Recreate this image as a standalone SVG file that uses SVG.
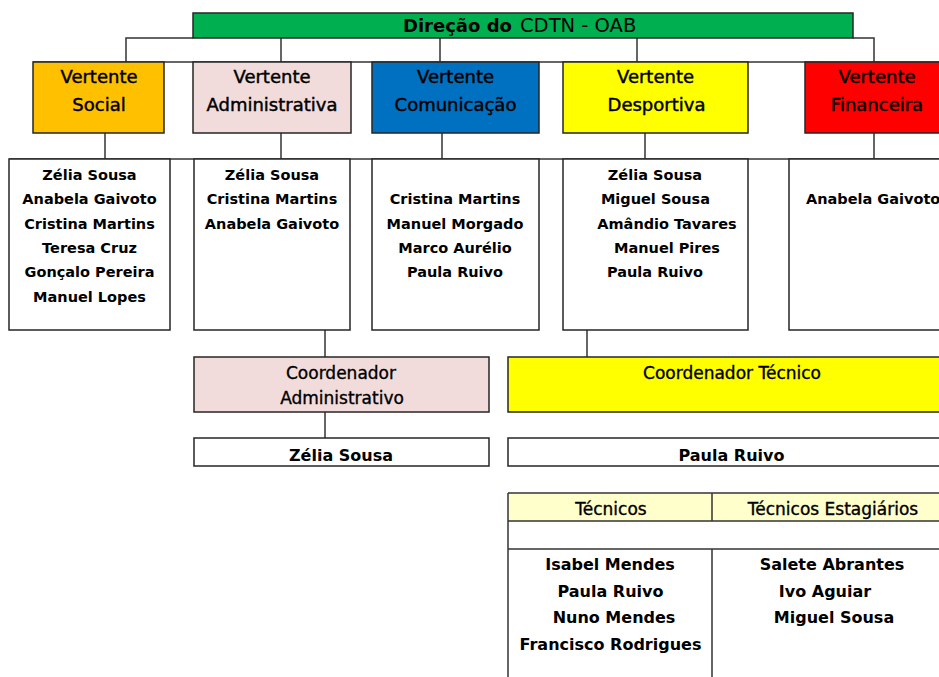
<svg xmlns="http://www.w3.org/2000/svg" width="939" height="677" viewBox="0 0 939 677">
<style>
.box{stroke:#262626;stroke-width:1.5}
.ln{stroke:#333;stroke-width:1.5;fill:none}
.hd{font-family:"DejaVu Sans",sans-serif;font-size:18px;fill:#000;stroke:#000;stroke-width:0.45;text-anchor:middle}
.nm{font-family:"DejaVu Sans",sans-serif;font-size:14.5px;font-weight:bold;fill:#000;text-anchor:middle}
.nm2{font-family:"DejaVu Sans",sans-serif;font-size:16px;font-weight:bold;fill:#000;text-anchor:middle}
.co{font-family:"DejaVu Sans",sans-serif;font-size:17px;fill:#000;stroke:#000;stroke-width:0.35;text-anchor:middle}
.st{text-anchor:start}
</style>
<rect width="939" height="677" fill="#fff"/>
<g id="connectors">
<polyline class="ln" points="193,38 126,38 126,62"/>
<line class="ln" x1="281" y1="38" x2="281" y2="62"/>
<line class="ln" x1="440" y1="38" x2="440" y2="62"/>
<line class="ln" x1="637" y1="38" x2="637" y2="62"/>
<polyline class="ln" points="853,38 874,38 874,62"/>
<line class="ln" x1="33" y1="62" x2="939" y2="62"/>
<line class="ln" x1="105" y1="133" x2="105" y2="159"/>
<line class="ln" x1="281" y1="133" x2="281" y2="159"/>
<line class="ln" x1="442" y1="133" x2="442" y2="159"/>
<line class="ln" x1="645" y1="133" x2="645" y2="159"/>
<line class="ln" x1="874" y1="133" x2="874" y2="159"/>
<line class="ln" x1="9" y1="159" x2="939" y2="159"/>
<line class="ln" x1="325" y1="330" x2="325" y2="357"/>
<line class="ln" x1="325" y1="412" x2="325" y2="438"/>
<line class="ln" x1="587" y1="330" x2="587" y2="357"/>
</g>
<g id="direcao">
<rect class="box" x="193" y="13" width="660" height="25" fill="#00B050"/>
<text x="403" y="31.5" font-family="DejaVu Sans, sans-serif" font-size="18" fill="#000"><tspan font-weight="bold">Direção do</tspan><tspan x="520" font-size="19.5">CDTN - OAB</tspan></text>
</g>
<g id="vertente-social">
<rect class="box" x="33" y="62" width="131" height="71" fill="#FFC000"/>
<text class="hd" x="99" y="83">Vertente</text>
<text class="hd" x="99" y="111">Social</text>
</g>
<g id="vertente-administrativa">
<rect class="box" x="193" y="62" width="158" height="71" fill="#F2DCDB"/>
<text class="hd" x="272" y="83">Vertente</text>
<text class="hd" x="272" y="111">Administrativa</text>
</g>
<g id="vertente-comunicacao">
<rect class="box" x="372" y="62" width="167" height="71" fill="#0070C0"/>
<text class="hd" x="455.5" y="83">Vertente</text>
<text class="hd" x="455.5" y="111">Comunicação</text>
</g>
<g id="vertente-desportiva">
<rect class="box" x="563" y="62" width="185" height="71" fill="#FFFF00"/>
<text class="hd" x="655.5" y="83">Vertente</text>
<text class="hd" x="656.5" y="111">Desportiva</text>
</g>
<g id="vertente-financeira">
<rect class="box" x="805" y="62" width="150" height="71" fill="#FF0000"/>
<text class="hd" x="877" y="83">Vertente</text>
<text class="hd" x="877" y="111">Financeira</text>
</g>
<g id="lista-social">
<rect class="box" x="9" y="159" width="161" height="171" fill="#fff"/>
<text class="nm" x="89.5" y="180">Zélia Sousa</text>
<text class="nm" x="89.5" y="204.3">Anabela Gaivoto</text>
<text class="nm" x="89.5" y="228.6">Cristina Martins</text>
<text class="nm" x="89.5" y="252.9">Teresa Cruz</text>
<text class="nm" x="89.5" y="277.2">Gonçalo Pereira</text>
<text class="nm" x="89.5" y="301.5">Manuel Lopes</text>
</g>
<g id="lista-administrativa">
<rect class="box" x="194" y="159" width="156" height="171" fill="#fff"/>
<text class="nm" x="272" y="180">Zélia Sousa</text>
<text class="nm" x="272" y="204.3">Cristina Martins</text>
<text class="nm" x="272" y="228.6">Anabela Gaivoto</text>
</g>
<g id="lista-comunicacao">
<rect class="box" x="372" y="159" width="167" height="171" fill="#fff"/>
<text class="nm" x="455" y="204.3">Cristina Martins</text>
<text class="nm" x="455" y="228.6">Manuel Morgado</text>
<text class="nm" x="455" y="252.9">Marco Aurélio</text>
<text class="nm" x="455" y="277.2">Paula Ruivo</text>
</g>
<g id="lista-desportiva">
<rect class="box" x="563" y="159" width="185" height="171" fill="#fff"/>
<text class="nm" x="655" y="180">Zélia Sousa</text>
<text class="nm" x="655.5" y="204.3">Miguel Sousa</text>
<text class="nm" x="667" y="228.6">Amândio Tavares</text>
<text class="nm" x="667" y="252.9">Manuel Pires</text>
<text class="nm" x="655" y="277.2">Paula Ruivo</text>
</g>
<g id="lista-financeira">
<rect class="box" x="789" y="159" width="170" height="171" fill="#fff"/>
<text class="nm st" x="806" y="204.3">Anabela Gaivoto</text>
</g>
<g id="coordenador-administrativo">
<rect class="box" x="194" y="357" width="295" height="55" fill="#F2DCDB"/>
<text class="co" x="341" y="379">Coordenador</text>
<text class="co" x="342" y="404">Administrativo</text>
</g>
<g id="coord-admin-nome">
<rect class="box" x="194" y="438" width="295" height="28" fill="#fff"/>
<text class="nm2" x="341" y="461">Zélia Sousa</text>
</g>
<g id="coordenador-tecnico">
<rect class="box" x="508" y="357" width="450" height="55" fill="#FFFF00"/>
<text class="co" x="732" y="379">Coordenador Técnico</text>
</g>
<g id="coord-tec-nome">
<rect class="box" x="508" y="438" width="450" height="28" fill="#fff"/>
<text class="nm2" x="731.5" y="461">Paula Ruivo</text>
</g>
<g id="tabela-tecnicos">
<rect x="508" y="493" width="450" height="28" fill="#FFFFCC"/>
<line class="ln" x1="508" y1="493" x2="939" y2="493"/>
<line class="ln" x1="508" y1="521" x2="939" y2="521"/>
<line class="ln" x1="508" y1="549" x2="939" y2="549"/>
<line class="ln" x1="508" y1="493" x2="508" y2="677"/>
<line class="ln" x1="712" y1="493" x2="712" y2="521"/>
<line class="ln" x1="712" y1="549" x2="712" y2="677"/>
<text class="co" x="611" y="515" font-size="17.5">Técnicos</text>
<text class="co" x="833" y="515" font-size="17.5">Técnicos Estagiários</text>
<text class="nm2" x="610" y="570">Isabel Mendes</text>
<text class="nm2" x="610.5" y="596.7">Paula Ruivo</text>
<text class="nm2" x="614" y="623.3">Nuno Mendes</text>
<text class="nm2" x="610.5" y="650">Francisco Rodrigues</text>
<text class="nm2" x="832" y="570">Salete Abrantes</text>
<text class="nm2" x="825" y="596.7">Ivo Aguiar</text>
<text class="nm2" x="834" y="623.3">Miguel Sousa</text>
</g>
</svg>
